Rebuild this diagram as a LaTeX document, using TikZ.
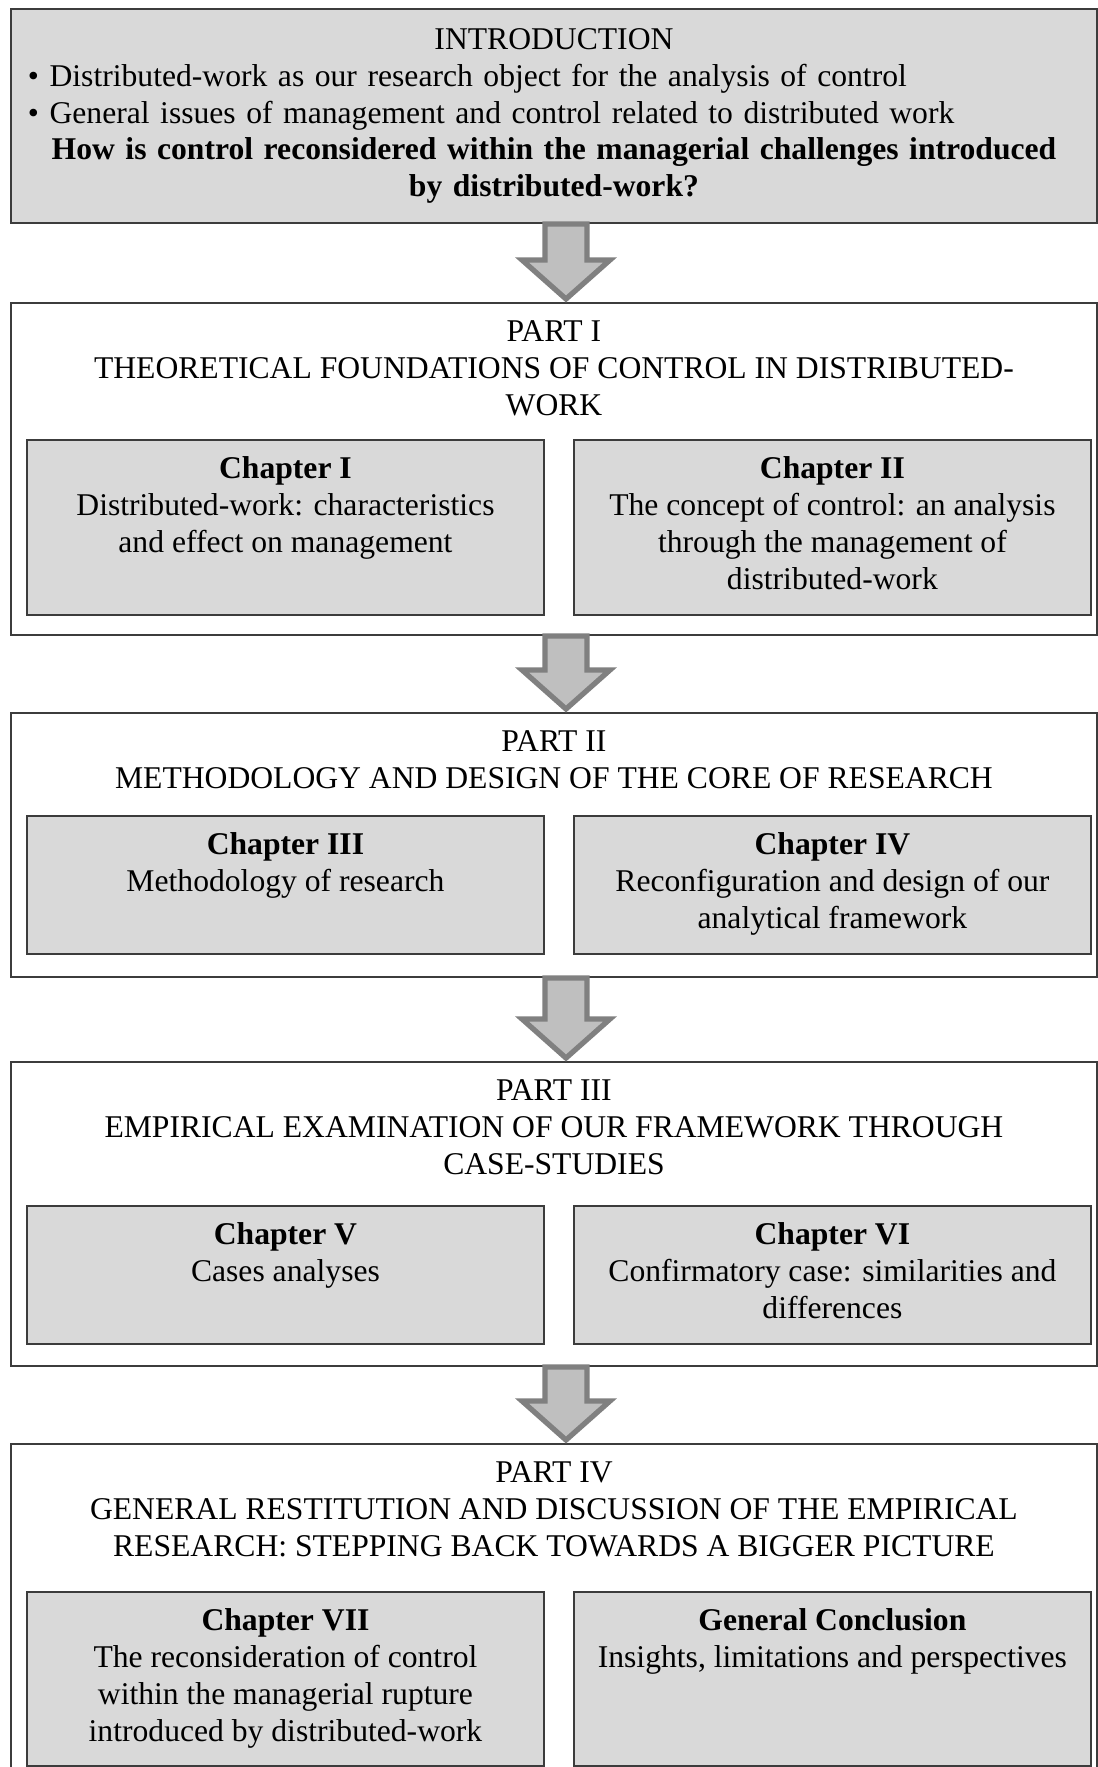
\documentclass[tikz,border=0pt]{standalone}
\usepackage{fontspec}
\setmainfont{Liberation Serif}
\usetikzlibrary{positioning,calc}

\definecolor{boxgray}{HTML}{D9D9D9}
\definecolor{arrowfill}{HTML}{BFBFBF}
\definecolor{arrowline}{HTML}{808080}
\definecolor{edgecol}{HTML}{3C3C3C}

\tikzset{
  partbox/.style={draw=edgecol, line width=1.1pt, rectangle, inner sep=0pt,
    minimum width=21.72cm, anchor=north west},
  chapbox/.style={draw=edgecol, line width=1.1pt, fill=boxgray, rectangle,
    inner sep=0pt, minimum width=10.34cm, anchor=north west},
  parttitle/.style={anchor=north, align=center, inner sep=0pt,
    font=\fontsize{18}{21}\selectfont},
  chaptext/.style={anchor=north, align=center, inner sep=0pt,
    font=\fontsize{18}{21}\selectfont},
  bigarrow/.style={draw=arrowline, fill=arrowfill, line width=3pt, line join=miter}
}

\begin{document}
\begin{tikzpicture}

    % Fix the page to the size of the original figure
    \useasboundingbox (0,0) rectangle (21.94,-35.34);

    % Introduction box with the research question
    \node[partbox, fill=boxgray, minimum height=4.28cm, inner xsep=0.34cm,
      text width=21.04cm, align=center, font=\fontsize{18}{21}\selectfont]
      (intro) at (0.2,-0.16) {INTRODUCTION\\
      \makebox[21.04cm][l]{\textbullet\ Distributed-work as our research object for the analysis of control}\\
      \makebox[21.04cm][l]{\textbullet\ General issues of management and control related to distributed work}\\
      \textbf{How is control reconsidered within the managerial challenges introduced}\\
      \textbf{by distributed-work?}};

    % Part I and its two chapters
    \node[partbox, minimum height=6.64cm] (p1) at (0.2,-6.04) {};
    \node[parttitle] (p1t) at ([yshift=-0.37cm]p1.north)
      {PART I\\THEORETICAL FOUNDATIONS OF CONTROL IN DISTRIBUTED-\\WORK};
    \node[chapbox, minimum height=3.5cm] (c1) at (0.52,-8.78) {};
    \node[chapbox, minimum height=3.5cm, right=0.56cm of c1] (c2) {};
    \node[chaptext] (c1t) at ([yshift=-0.35cm]c1.north)
      {\textbf{Chapter I}\\Distributed-work: characteristics\\and effect on management};
    \node[chaptext] (c2t) at ([yshift=-0.35cm]c2.north)
      {\textbf{Chapter II}\\The concept of control: an analysis\\through the management of\\distributed-work};

    % Part II and its two chapters
    \node[partbox, minimum height=5.28cm] (p2) at (0.2,-14.24) {};
    \node[parttitle] (p2t) at ([yshift=-0.37cm]p2.north)
      {PART II\\METHODOLOGY AND DESIGN OF THE CORE OF RESEARCH};
    \node[chapbox, minimum height=2.76cm] (c3) at (0.52,-16.3) {};
    \node[chapbox, minimum height=2.76cm, right=0.56cm of c3] (c4) {};
    \node[chaptext] (c3t) at ([yshift=-0.35cm]c3.north)
      {\textbf{Chapter III}\\Methodology of research};
    \node[chaptext] (c4t) at ([yshift=-0.35cm]c4.north)
      {\textbf{Chapter IV}\\Reconfiguration and design of our\\analytical framework};

    % Part III and its two chapters
    \node[partbox, minimum height=6.08cm] (p3) at (0.2,-21.22) {};
    \node[parttitle] (p3t) at ([yshift=-0.37cm]p3.north)
      {PART III\\EMPIRICAL EXAMINATION OF OUR FRAMEWORK THROUGH\\CASE-STUDIES};
    \node[chapbox, minimum height=2.76cm] (c5) at (0.52,-24.1) {};
    \node[chapbox, minimum height=2.76cm, right=0.56cm of c5] (c6) {};
    \node[chaptext] (c5t) at ([yshift=-0.35cm]c5.north)
      {\textbf{Chapter V}\\Cases analyses};
    \node[chaptext] (c6t) at ([yshift=-0.35cm]c6.north)
      {\textbf{Chapter VI}\\Confirmatory case: similarities and\\differences};

    % Part IV, its bottom edge runs off the page
    \node[partbox, minimum height=6.74cm] (p4) at (0.2,-28.86) {};
    \node[parttitle] (p4t) at ([yshift=-0.37cm]p4.north)
      {PART IV\\GENERAL RESTITUTION AND DISCUSSION OF THE EMPIRICAL\\RESEARCH: STEPPING BACK TOWARDS A BIGGER PICTURE};
    \node[chapbox, minimum height=3.48cm] (c7) at (0.52,-31.82) {};
    \node[chapbox, minimum height=3.48cm, right=0.56cm of c7] (c8) {};
    \node[chaptext] (c7t) at ([yshift=-0.35cm]c7.north)
      {\textbf{Chapter VII}\\The reconsideration of control\\within the managerial rupture\\introduced by distributed-work};
    \node[chaptext] (c8t) at ([yshift=-0.35cm]c8.north)
      {\textbf{General Conclusion}\\Insights, limitations and perspectives};

    % Block arrows between consecutive parts
    \coordinate (ax) at (11.32,0);
    \foreach \a/\b in {intro/p1, p1/p2, p2/p3, p3/p4} {
      \draw[bigarrow] ($(\a.south -| ax)+(-0.42,0)$) -- ($(\b.north -| ax)+(-0.42,0.84)$)
        -- ($(\b.north -| ax)+(-0.88,0.84)$) -- ($(\b.north -| ax)+(0,0.06)$)
        -- ($(\b.north -| ax)+(0.88,0.84)$) -- ($(\b.north -| ax)+(0.42,0.84)$)
        -- ($(\a.south -| ax)+(0.42,0)$) -- cycle;
    }

\end{tikzpicture}
\end{document}
